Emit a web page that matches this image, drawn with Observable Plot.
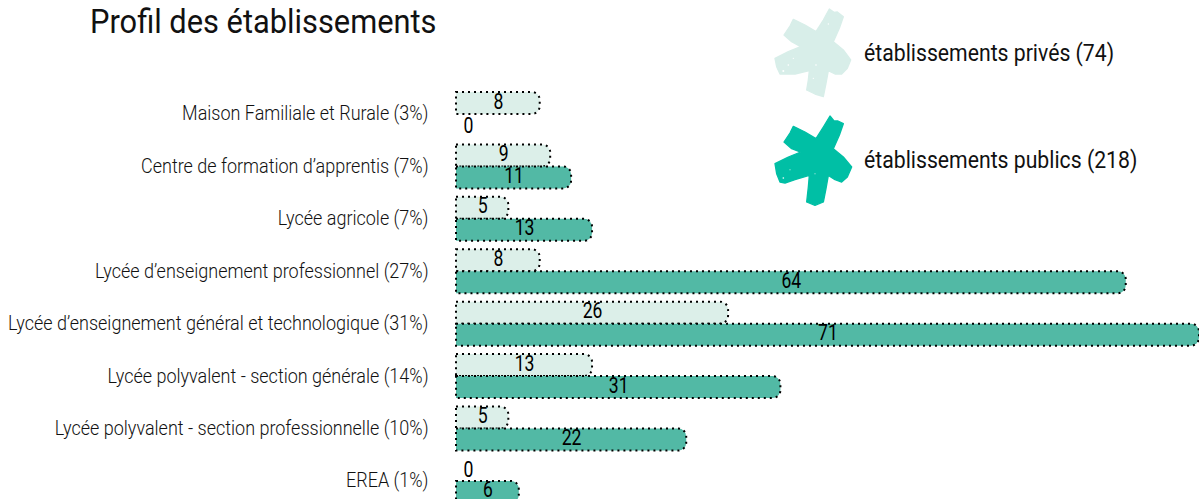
<!DOCTYPE html>
<html lang="fr"><head><meta charset="utf-8">
<script src="https://cdn.jsdelivr.net/npm/d3@7"></script>
<script src="https://cdn.jsdelivr.net/npm/@observablehq/plot@0.6"></script>
<style>
html,body{margin:0;padding:0;background:#fff;overflow:hidden}
#wrap{position:relative;width:1199px;height:499px;overflow:hidden;font-family:Roboto,sans-serif;font-weight:400;color:#111}
#chart svg{position:absolute;left:0;top:0}
#title{position:absolute;left:90px;top:0;font-size:34px;line-height:42px;white-space:nowrap;font-weight:400;transform:scaleX(.906);transform-origin:0 0}
.lg{position:absolute;font-size:23px;line-height:26px;white-space:nowrap;font-weight:400;transform:scaleX(.922);transform-origin:0 0}
.star{position:absolute;overflow:visible}
</style></head><body>
<div id="wrap">
<div id="chart"></div>
<div id="title">Profil des établissements</div>
<svg class="star" style="left:760px;top:0" width="130" height="105" viewBox="0 0 390 315"><path fill="#d8eee9" stroke="#d8eee9" stroke-width="4" stroke-linejoin="round" d="M208,27L222,37L232,36L250,50L238,85L220,125L250,150L272,180L262,205L245,222L225,222L205,212L198,250L190,290L165,282L140,270L145,240L148,212L105,222L75,222L60,222L50,200L45,175L85,155L122,140L95,125L72,105L90,78L100,58L135,75L168,95L190,60Z"/><g fill="#fff"><circle cx="85" cy="195" r="2.5"/><circle cx="100" cy="175" r="2"/><circle cx="70" cy="213" r="3"/><circle cx="168" cy="195" r="2.5"/><circle cx="160" cy="235" r="2"/><circle cx="205" cy="72" r="2"/></g></svg>
<svg class="star" style="left:760px;top:107px" width="130" height="105" viewBox="0 0 390 315"><path fill="#00bfa5" stroke="#00bfa5" stroke-width="4" stroke-linejoin="round" d="M210,27L222,42L234,42L250,50L238,85L220,125L250,150L275,180L262,210L245,225L225,218L205,205L198,245L190,285L165,295L140,285L145,240L148,205L105,218L75,228L60,225L50,200L45,170L85,150L122,135L95,125L72,105L90,78L100,58L135,75L168,95L190,60Z"/><g fill="#fff"><circle cx="70" cy="213" r="2.5"/><circle cx="90" cy="188" r="1.5"/><circle cx="165" cy="200" r="1.5"/></g></svg>
<div class="lg" style="left:864px;top:41px">établissements privés (74)</div>
<div class="lg" style="left:864px;top:148px">établissements publics (218)</div>
</div>
<script>
const categories = ["Maison Familiale et Rurale (3%)","Centre de formation d’apprentis (7%)","Lycée agricole (7%)","Lycée d’enseignement professionnel (27%)","Lycée d’enseignement général et technologique (31%)","Lycée polyvalent - section générale (14%)","Lycée polyvalent - section professionnelle (10%)","EREA (1%)"];
const prives = [8,9,5,8,26,13,5,0];
const publics = [0,11,13,64,71,31,22,6];
const series = ["privé","public"];
const colors = ["#dcefe9","#52b9a5"];
const rows = categories.flatMap((c,i)=>[
  {cat:c,serie:series[0],value:prives[i]},
  {cat:c,serie:series[1],value:publics[i]}
]);
const chart = Plot.plot({
  width:1199,height:499,
  marginLeft:456,marginRight:0,marginTop:91,marginBottom:-4,
  style:{fontFamily:"Roboto, sans-serif",background:"transparent",overflow:"hidden"},
  x:{domain:[0,71],axis:null},
  y:{domain:series,axis:null,padding:0.02},
  fy:{domain:categories,padding:0.14,label:null,axis:null,round:false},
  color:{domain:series,range:colors},
  marks:[
    Plot.barX(rows.filter(d=>d.value>0),{x:"value",y:"serie",fy:"cat",fill:"serie",stroke:"#000",strokeWidth:2,strokeDasharray:"2 4",rx2:8}),
    Plot.text(rows.filter(d=>d.value>0),{x:d=>d.value/2,y:"serie",fy:"cat",text:"value",fontSize:22,fontWeight:400,fill:"#000",dy:-2,className:"num"}),
    Plot.text(rows.filter(d=>d.value===0),{x:"value",y:"serie",fy:"cat",text:"value",fontSize:22,fontWeight:400,fill:"#000",dx:12,className:"num"}),
    Plot.axisFy({anchor:"left",tickSize:0,tickPadding:28,label:null,fontSize:20,fontWeight:300,fill:"#111",className:"lab"})
  ]
});
document.getElementById("chart").appendChild(chart);
// Police étroite : le texte Roboto est resserré horizontalement, autour de son ancre.
chart.querySelectorAll("g.num text").forEach(t=>t.setAttribute("transform",(t.getAttribute("transform")||"")+" scale(.8,1)"));
chart.querySelectorAll("g.lab text").forEach(t=>t.setAttribute("transform",(t.getAttribute("transform")||"")+" scale(.9,1)"));
</script>
</body></html>
